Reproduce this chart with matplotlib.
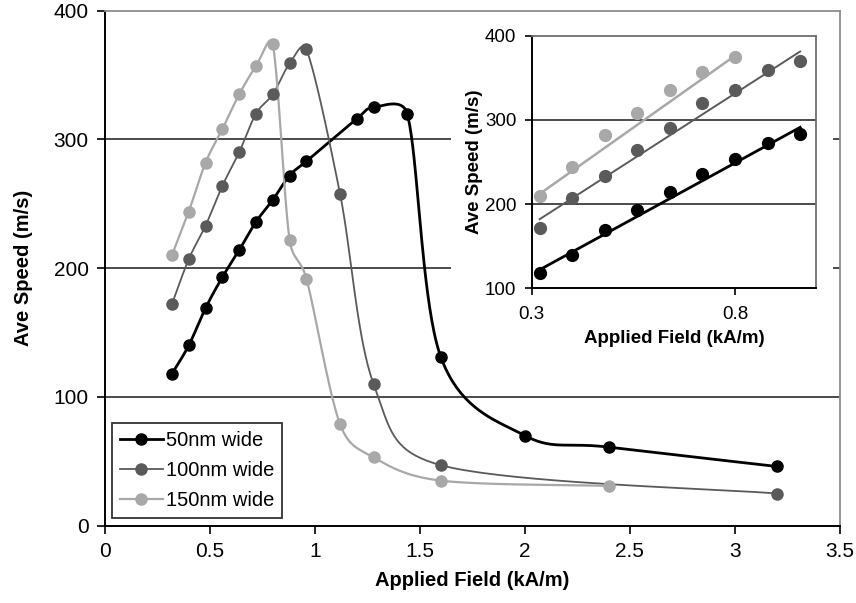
import numpy as np
import matplotlib
matplotlib.use("Agg")
import matplotlib.pyplot as plt

plt.rcParams['font.family'] = ['Liberation Sans', 'DejaVu Sans']

# ---------------- data ----------------
series_labels = ["50nm wide", "100nm wide", "150nm wide"]
series_colors = ["#000000", "#5a5a5a", "#a8a8a8"]

x50 = [0.32, 0.40, 0.48, 0.56, 0.64, 0.72, 0.80, 0.88, 0.96, 1.20, 1.28, 1.44, 1.60, 2.00, 2.40, 3.20]
y50 = [118, 140, 169, 193, 214, 236, 253, 272, 283, 316, 325, 320, 131, 70, 61, 46]

x100 = [0.32, 0.40, 0.48, 0.56, 0.64, 0.72, 0.80, 0.88, 0.96, 1.12, 1.28, 1.60, 3.20]
y100 = [172, 207, 233, 264, 290, 320, 335, 359, 370, 258, 110, 47, 25]

x150 = [0.32, 0.40, 0.48, 0.56, 0.64, 0.72, 0.80, 0.88, 0.96, 1.12, 1.28, 1.60, 2.40]
y150 = [210, 244, 282, 308, 335, 357, 374, 222, 192, 79, 53, 35, 31]

# number of leading points shown in the inset (linear region)
inset_counts = [9, 9, 7]
# linear trend lines in the inset (start / end values)
trend_x = [[0.32, 0.96], [0.32, 0.96], [0.32, 0.80]]
trend_y = [[122, 291], [182, 381], [212, 376]]

main_xticks = [0, 0.5, 1, 1.5, 2, 2.5, 3, 3.5]
main_xticklabels = ["0", "0.5", "1", "1.5", "2", "2.5", "3", "3.5"]
main_yticks = [0, 100, 200, 300, 400]
inset_xticks = [0.3, 0.8]
inset_xticklabels = ["0.3", "0.8"]
inset_yticks = [100, 200, 300, 400]

xs = [x50, x100, x150]
ys = [y50, y100, y150]

W, H = 856, 603
fig = plt.figure(figsize=(W / 100, H / 100), dpi=100)


def px_rect(x0, y0, x1, y1):
    return [x0 / W, 1 - y1 / H, (x1 - x0) / W, (y1 - y0) / H]


ax = fig.add_axes(px_rect(104.7, 10.7, 840, 525.7))
ax.set_xlim(0, 3.5)
ax.set_ylim(0, 400)


def _limit(v, maxlen):
    L = np.hypot(*v)
    if L > maxlen and L > 0:
        return v * (maxlen / L)
    return v


def smooth_curve(axis, x, y, n=40):
    """Excel-like smoothed line (Bezier) computed in display space."""
    pts = axis.transData.transform(np.column_stack([x, y]))
    P = np.vstack([pts[0], pts, pts[-1]])
    out = []
    t = np.linspace(0, 1, n)[:, None]
    for i in range(1, len(P) - 2):
        p0, p1, p2, p3 = P[i - 1], P[i], P[i + 1], P[i + 2]
        seg_len = np.hypot(*(p2 - p1))
        c1 = p1 + _limit((p2 - p0) / 6.0, 0.5 * seg_len)
        c2 = p2 - _limit((p3 - p1) / 6.0, 0.5 * seg_len)
        seg = ((1 - t) ** 3) * p1 + 3 * ((1 - t) ** 2) * t * c1 + 3 * (1 - t) * t ** 2 * c2 + t ** 3 * p2
        out.append(seg if i == 1 else seg[1:])
    out = np.vstack(out)
    data = axis.transData.inverted().transform(out)
    return data[:, 0], data[:, 1]


lws = [2.0, 1.3, 1.6]
handles = []
for x, y, c, lab, lw in zip(xs, ys, series_colors, series_labels, lws):
    sx, sy = smooth_curve(ax, x, y)
    ax.plot(sx, sy, color=c, lw=lw, zorder=3)
    ax.plot(x, y, linestyle='none', marker='o', ms=8, color=c, mec=c, zorder=4)
    h, = ax.plot([], [], color=c, lw=lw, marker='o', ms=8, mec=c, label=lab)
    handles.append(h)

ax.set_xticks(main_xticks)
ax.set_xticklabels(main_xticklabels)
ax.set_yticks(main_yticks)
ax.tick_params(direction='out', length=5.5, width=1.2, labelsize=15, pad=6, colors='black')
for g in main_yticks[1:-1]:
    ax.axhline(g, color='#1a1a1a', lw=1.1, zorder=1)
ax.spines['left'].set_linewidth(1.4)
ax.spines['bottom'].set_linewidth(1.4)
ax.spines['top'].set_color('#8c8c8c')
ax.spines['right'].set_color('#8c8c8c')
ax.spines['top'].set_linewidth(1.3)
ax.spines['right'].set_linewidth(1.3)

ax.set_xlabel("Applied Field (kA/m)", fontsize=14.5, fontweight='bold')
ax.xaxis.set_label_coords(0.5, -0.088)
ax.set_ylabel("Ave Speed (m/s)", fontsize=14.5, fontweight='bold')
ax.yaxis.set_label_coords(-0.098, 0.5)

leg = ax.legend(handles=handles, loc='lower left', bbox_to_anchor=(0.0103, 0.0144),
                borderaxespad=0, fontsize=14.5, frameon=True, fancybox=False,
                edgecolor='black', handlelength=2.1, handletextpad=0.15,
                labelspacing=0.55, borderpad=0.4)
leg.get_frame().set_linewidth(1.3)
leg.set_zorder(5)

# white background box behind the inset
bg = fig.add_axes(px_rect(451, 12, 833, 360), zorder=2)
bg.set_facecolor('white')
bg.set_xticks([])
bg.set_yticks([])
for s in bg.spines.values():
    s.set_visible(False)

# ---------------- inset ----------------
ins = fig.add_axes(px_rect(531.5, 35.5, 816.4, 288.3), zorder=3)
ins.set_xlim(0.3, 1.0)
ins.set_ylim(100, 400)
trend_lws = [2.0, 1.4, 1.8]
for x, y, c, n, tx, ty, tlw in zip(xs, ys, series_colors, inset_counts, trend_x, trend_y, trend_lws):
    ins.plot(x[:n], y[:n], linestyle='none', marker='o', ms=8.5, color=c, mec=c, zorder=3)
    ins.plot(tx, ty, color=c, lw=tlw, zorder=4)

ins.set_xticks(inset_xticks)
ins.set_xticklabels(inset_xticklabels)
ins.set_yticks(inset_yticks)
ins.tick_params(direction='out', length=5, width=1.2, labelsize=13.5, colors='black')
ins.tick_params(axis='x', pad=8)
ins.tick_params(axis='y', pad=6)
for g in inset_yticks[1:-1]:
    ins.axhline(g, color='#1a1a1a', lw=1.1, zorder=1)
ins.spines['left'].set_linewidth(1.4)
ins.spines['bottom'].set_linewidth(1.4)
ins.spines['top'].set_color('#6e6e6e')
ins.spines['right'].set_color('#6e6e6e')
ins.spines['top'].set_linewidth(1.3)
ins.spines['right'].set_linewidth(1.3)
ins.set_xlabel("Applied Field (kA/m)", fontsize=13.5, fontweight='bold')
ins.xaxis.set_label_coords(0.5, -0.165)
ins.set_ylabel("Ave Speed (m/s)", fontsize=13.5, fontweight='bold')
ins.yaxis.set_label_coords(-0.17, 0.5)

fig.savefig("out.png", dpi=100)
